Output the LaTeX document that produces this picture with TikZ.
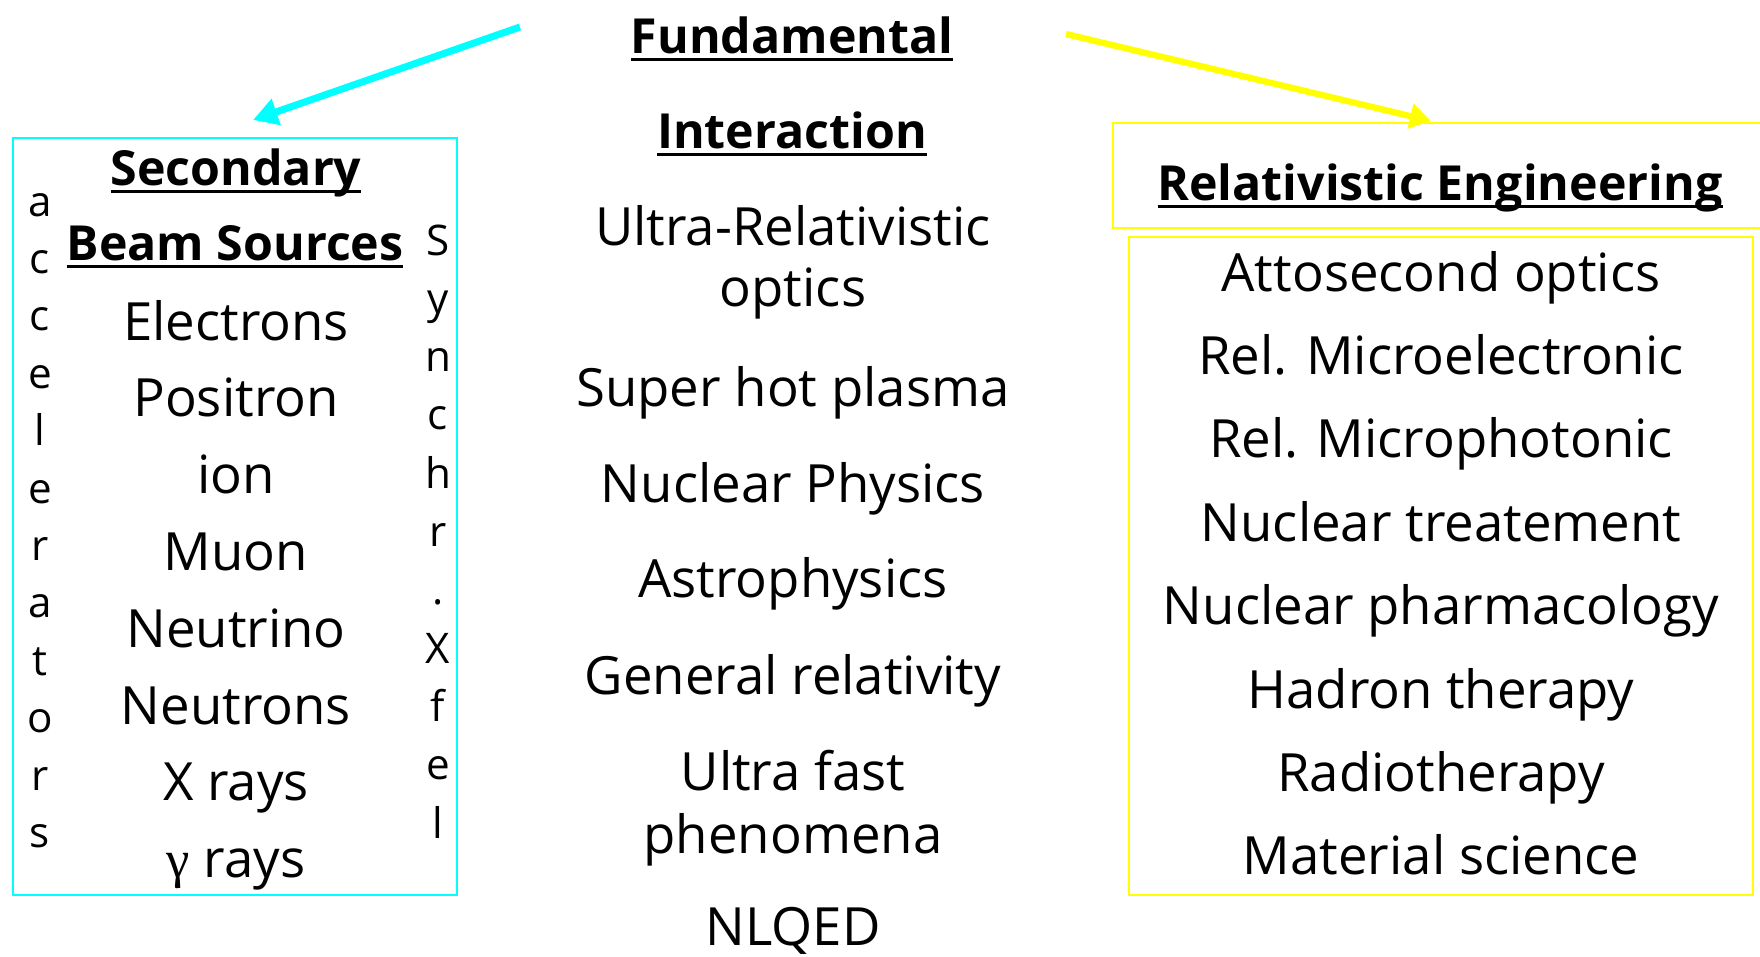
\documentclass[tikz,border=0pt]{standalone}
\usepackage{fontspec}
\setmainfont{Open Sans}
\newfontfamily\gamfont{Liberation Serif}
\usepackage{tikz}
\usetikzlibrary{arrows.meta}
\definecolor{beamcyan}{RGB}{0,255,255}
\definecolor{engyellow}{RGB}{255,255,0}
\newcommand{\ulbox}[1]{\setbox0=\hbox{#1}\rlap{\rule[-0.16em]{\wd0}{0.065em}}\box0}

\begin{document}
\begin{tikzpicture}[x=0.2mm,y=-0.2mm,
  every node/.style={inner sep=0pt, anchor=base},
  item/.style={font=\fontsize{30}{36}\selectfont},
  head/.style={font=\bfseries\fontsize{27.5}{33}\selectfont},
  vletter/.style={font=\fontsize{24}{28}\selectfont},
  cyanarrow/.style={beamcyan, line width=4pt, -{Triangle[length=14pt,width=15pt]}},
  yellowarrow/.style={engyellow, line width=3.6pt, -{Triangle[length=12pt,width=14pt]}}]
\useasboundingbox (0,0) rectangle (1760,956);

% Boxes
\draw[beamcyan, line width=1.2pt] (13,138) rectangle (457,895);
\draw[engyellow, line width=1.2pt] (1113,123) rectangle (1775,228);
\draw[engyellow, line width=1.2pt] (1129,237) rectangle (1753,895);

% Headings
\node[head] (fund) at (792,53) {\ulbox{Fundamental}};
\node[head] (inter) at (792,148) {\ulbox{Interaction}};
\node[head] (secnd) at (236,185) {\ulbox{Secondary}};
\node[head] (beam) at (235,260) {\ulbox{Beam Sources}};
\node[head] (releng) at (1440,200) {\ulbox{Relativistic Engineering}};

% Side letters
\foreach \ch [count=\i from 0] in {a,c,c,e,l,e,r,a,t,o,r,s}
  \node[vletter] (acc\i) at (40,216+57.4*\i) {\ch};
\foreach \ch [count=\i from 0] in {S,y,n,c,h,r,.,X,f,e,l}
  \node[vletter] (syn\i) at (438,255+58.3*\i) {\ch};

% Sources
\foreach \txt [count=\i from 0] in {Electrons,Positron,ion,Muon,Neutrino,Neutrons,X rays,{\gamfont γ} rays}
  \node[item] (src\i) at (236,340+76.8*\i) {\txt};

% Interaction
\node[item] (urel) at (793,245) {Ultra-Relativistic};
\node[item] (opt) at (793,306) {optics};
\node[item] (plasma) at (793,406) {Super hot plasma};
\node[item] (nucl) at (793,502) {Nuclear Physics};
\node[item] (astro) at (793,597) {Astrophysics};
\node[item] (genrel) at (793,694) {General relativity};
\node[item] (ufast) at (793,790) {Ultra fast};
\node[item] (phen) at (793,853) {phenomena};
\node[item] (qed) at (793,945) {NLQED};

% Engineering
\foreach \txt [count=\i from 0] in {Attosecond optics,Rel. Microelectronic,Rel. Microphotonic,Nuclear treatement,Nuclear pharmacology,Hadron therapy,Radiotherapy,Material science}
  \node[item] (eng\i) at (1441,291+83.4*\i) {\txt};

%Arrows
\coordinate (cyanfrom) at (520,27);
\coordinate (cyanto) at (253,120);
\coordinate (yellowfrom) at (1066,34);
\coordinate (yellowto) at (1431,121);
\draw[cyanarrow] (cyanfrom) -- (cyanto);
\draw[yellowarrow] (yellowfrom) -- (yellowto);
\end{tikzpicture}
\end{document}
